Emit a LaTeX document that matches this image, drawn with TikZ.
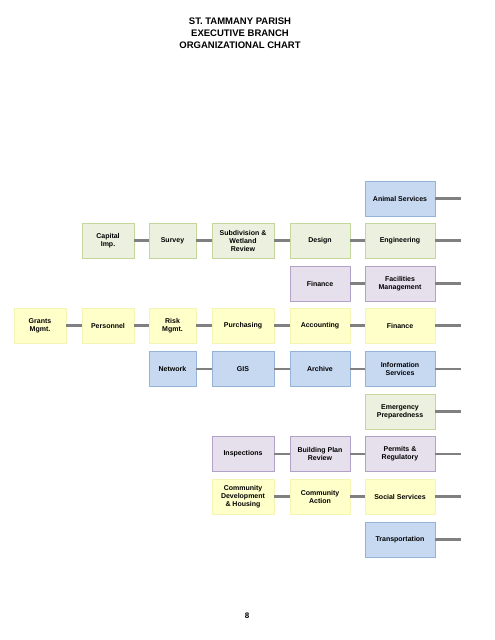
\documentclass[tikz,border=0pt]{standalone}
\usepackage{fontspec}
\setmainfont{Liberation Sans}
\usepackage{tikz}

\definecolor{greenfill}{HTML}{EBF1DE}
\definecolor{greenline}{HTML}{C3D69B}
\definecolor{yellowfill}{HTML}{FFFFCA}
\definecolor{yellowline}{HTML}{F4F4B4}
\definecolor{bluefill}{HTML}{C6D9F1}
\definecolor{blueline}{HTML}{95B3D7}
\definecolor{purplefill}{HTML}{E5E0EC}
\definecolor{purpleline}{HTML}{B3A2C7}
\definecolor{linkgrey}{HTML}{808080}

\tikzset{
	unit/.style={shape=rectangle, line width=0.9pt, align=center, inner sep=1pt, minimum height=35pt, font=\bfseries\fontsize{7}{8}\selectfont},
	greenunit/.style={unit, fill=greenfill, draw=greenline},
	yellowunit/.style={unit, fill=yellowfill, draw=yellowline},
	blueunit/.style={unit, fill=bluefill, draw=blueline},
	purpleunit/.style={unit, fill=purplefill, draw=purpleline},
	link/.style={-, line width=2.6pt, draw=linkgrey}
}

\begin{document}
\begin{tikzpicture}[x=1pt, y=-1pt]
	\useasboundingbox (0,0) rectangle (495,640);

	\node[align=center, font=\bfseries\fontsize{9.5}{12}\selectfont] (title) at (240,33) {ST. TAMMANY PARISH\\EXECUTIVE BRANCH\\ORGANIZATIONAL CHART};
	\node[font=\bfseries\fontsize{8}{9}\selectfont] (pagenum) at (247,616) {8};

	% top row
	\node[blueunit, minimum width=70pt] (animal) at (400,198.5) {Animal Services};

	% engineering row
	\node[greenunit, minimum width=52pt] (capital) at (108,240.5) {Capital\\Imp.};
	\node[greenunit, minimum width=47pt] (survey) at (172.5,240.5) {Survey};
	\node[greenunit, minimum width=62pt] (subdiv) at (243,240.5) {Subdivision \&\\Wetland\\Review};
	\node[greenunit, minimum width=60pt] (design) at (320,240.5) {Design};
	\node[greenunit, minimum width=70pt] (engineering) at (400,240.5) {Engineering};

	\node[purpleunit, minimum width=60pt] (finance2) at (320,283.5) {Finance};
	\node[purpleunit, minimum width=70pt] (facilities) at (400,283.5) {Facilities\\Management};

	% finance row
	\node[yellowunit, minimum width=52pt] (grants) at (40,325.5) {Grants\\Mgmt.};
	\node[yellowunit, minimum width=52pt] (personnel) at (108,325.5) {Personnel};
	\node[yellowunit, minimum width=47pt] (risk) at (172.5,325.5) {Risk\\Mgmt.};
	\node[yellowunit, minimum width=62pt] (purchasing) at (243,325.5) {Purchasing};
	\node[yellowunit, minimum width=60pt] (accounting) at (320,325.5) {Accounting};
	\node[yellowunit, minimum width=70pt] (finance) at (400,325.5) {Finance};

	\node[blueunit, minimum width=47pt] (network) at (172.5,369) {Network};
	\node[blueunit, minimum width=62pt] (gis) at (243,369) {GIS};
	\node[blueunit, minimum width=60pt] (archive) at (320,369) {Archive};
	\node[blueunit, minimum width=70pt] (info) at (400,369) {Information\\Services};

	\node[greenunit, minimum width=70pt] (emergency) at (400,411.5) {Emergency\\Preparedness};

	\node[purpleunit, minimum width=62pt] (inspections) at (243,454) {Inspections};
	\node[purpleunit, minimum width=60pt] (planreview) at (320,454) {Building Plan\\Review};
	\node[purpleunit, minimum width=70pt] (permits) at (400,454) {Permits \&\\Regulatory};

	\node[yellowunit, minimum width=62pt] (commdev) at (243,496.5) {Community\\Development\\\& Housing};
	\node[yellowunit, minimum width=60pt] (commaction) at (320,496.5) {Community\\Action};
	\node[yellowunit, minimum width=70pt] (social) at (400,496.5) {Social Services};

	\node[blueunit, minimum width=70pt] (transport) at (400,539.5) {Transportation};

	% open ends on the right
	\coordinate (animalend) at (461,198.5);
	\coordinate (engend) at (461,240.5);
	\coordinate (facend) at (461,283.5);
	\coordinate (finend) at (461,325.5);
	\coordinate (infoend) at (461,369);
	\coordinate (emend) at (461,411.5);
	\coordinate (permend) at (461,454);
	\coordinate (socend) at (461,496.5);
	\coordinate (transend) at (461,539.5);

	\path[link] (animal) edge (animalend);
	\path[link] (capital) edge (survey);
	\path[link] (survey) edge (subdiv);
	\path[link] (subdiv) edge (design);
	\path[link] (design) edge (engineering);
	\path[link] (engineering) edge (engend);
	\path[link] (finance2) edge (facilities);
	\path[link] (facilities) edge (facend);
	\path[link] (grants) edge (personnel);
	\path[link] (personnel) edge (risk);
	\path[link] (risk) edge (purchasing);
	\path[link] (purchasing) edge (accounting);
	\path[link] (accounting) edge (finance);
	\path[link] (finance) edge (finend);
	\path[link] (network) edge (gis);
	\path[link] (gis) edge (archive);
	\path[link] (archive) edge (info);
	\path[link] (info) edge (infoend);
	\path[link] (emergency) edge (emend);
	\path[link] (inspections) edge (planreview);
	\path[link] (planreview) edge (permits);
	\path[link] (permits) edge (permend);
	\path[link] (commdev) edge (commaction);
	\path[link] (commaction) edge (social);
	\path[link] (social) edge (socend);
	\path[link] (transport) edge (transend);

\end{tikzpicture}
\end{document}
